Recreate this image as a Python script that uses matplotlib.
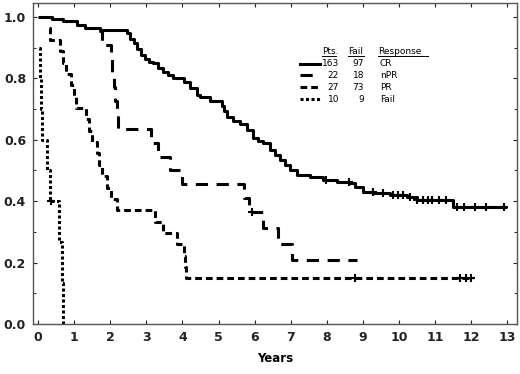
import numpy as np
import matplotlib.pyplot as plt

# survival curves (step times in years, survival after the step)
cr_t = [0, 0.38, 0.70, 1.07, 1.30, 1.72, 2.46, 2.55, 2.65, 2.73, 2.85, 2.96, 3.08, 3.19, 3.33,
        3.47, 3.60, 3.75, 4.03, 4.21, 4.40, 4.49, 4.76, 5.09, 5.15, 5.23, 5.40, 5.60, 5.78,
        5.96, 6.10, 6.24, 6.43, 6.55, 6.70, 6.85, 6.98, 7.17, 7.53, 7.90, 8.27, 8.64, 8.78,
        9.01, 9.29, 9.75, 10.21, 10.49, 11.50]
cr_s = [1.0, 0.993, 0.987, 0.974, 0.963, 0.958, 0.947, 0.930, 0.914, 0.895, 0.876, 0.862,
        0.855, 0.849, 0.835, 0.822, 0.811, 0.80, 0.79, 0.768, 0.746, 0.74, 0.725, 0.709, 0.695,
        0.676, 0.662, 0.65, 0.632, 0.605, 0.595, 0.588, 0.567, 0.550, 0.534, 0.518, 0.502,
        0.485, 0.48, 0.469, 0.464, 0.458, 0.447, 0.431, 0.426, 0.42, 0.415, 0.404, 0.382]
cr_end = 13.0
cr_cens = [7.97, 8.60, 9.28, 9.56, 9.83, 9.97, 10.1, 10.3, 10.5, 10.65, 10.8, 10.9, 11.1,
           11.3, 11.6, 11.8, 12.1, 12.4, 12.9]

npr_t = [1.70, 1.78, 2.02, 2.06, 2.10, 2.14, 2.18, 2.22, 3.12, 3.33, 3.66, 4.0, 5.70, 5.85,
         6.23, 6.65, 7.03]
npr_s = [0.955, 0.909, 0.864, 0.818, 0.773, 0.727, 0.682, 0.636, 0.591, 0.545, 0.50,
         0.455, 0.409, 0.364, 0.312, 0.260, 0.208]
npr_end = 8.84
npr_cens = [5.92]

pr_t = [0.30, 0.33, 0.62, 0.70, 0.78, 0.92, 1.00, 1.05, 1.33, 1.42, 1.50, 1.62, 1.70, 1.78,
        1.92, 2.02, 2.20, 3.25, 3.45, 3.85, 4.05, 4.07, 4.10]
pr_s = [0.963, 0.926, 0.889, 0.852, 0.815, 0.778, 0.741, 0.704, 0.667, 0.630, 0.593,
        0.556, 0.519, 0.481, 0.444, 0.407, 0.370, 0.333, 0.296, 0.259, 0.222, 0.185, 0.148]
pr_end = 12.05
pr_cens = [8.78, 11.7, 11.85, 12.0]

fail_t = [0.03, 0.05, 0.08, 0.10, 0.24, 0.33, 0.59, 0.66, 0.70]
fail_s = [0.9, 0.8, 0.7, 0.6, 0.5, 0.4, 0.267, 0.133, 0.0]
fail_cens = [0.35]

legend_pts = ["163", "22", "27", "10"]
legend_fail = ["97", "18", "73", "9"]
legend_resp = ["CR", "nPR", "PR", "Fail"]

styles = [dict(ls='-'), dict(ls=(0, (4, 2.8))), dict(ls=(0, (2.2, 1.3))), dict(ls=(0, (1.0, 0.8)))]


def surv_at(t, s, x):
    i = np.searchsorted(t, x, side='right') - 1
    return s[i]


fig = plt.figure(figsize=(5.2, 3.74), dpi=100)
ax = fig.add_axes([0.0635, 0.134, 0.931, 0.858])

curves = [(cr_t, cr_s, cr_end, cr_cens),
          (npr_t, npr_s, npr_end, npr_cens),
          (pr_t, pr_s, pr_end, pr_cens),
          (fail_t, fail_s, fail_t[-1], fail_cens)]

for (t, s, end, cens), st in zip(curves, styles):
    tt = list(t) + [end]
    ss = list(s) + [s[-1]]
    ax.step(tt, ss, where='post', color='black', lw=2.2, solid_capstyle='butt',
            dash_capstyle='butt', **st)
    cy = [surv_at(t, s, c) for c in cens]
    ax.plot(cens, cy, ls='none', marker='+', ms=5.5, mew=1.5, color='black')

ax.set_xlim(-0.14, 13.27)
ax.set_ylim(0, 1.046)
ax.set_xticks(range(0, 14))
ax.set_yticks(np.arange(0, 1.01, 0.2))
ax.set_yticklabels(["%.1f" % v for v in np.arange(0, 1.01, 0.2)])
ax.set_yticks(np.arange(0, 1.01, 0.1), minor=True)
ax.tick_params(direction='in', length=3, width=0.8, top=True, right=True,
               labelsize=9, colors='#222222', pad=5)
ax.tick_params(which='minor', direction='in', length=2, right=True, left=True)
for lab in ax.get_xticklabels() + ax.get_yticklabels():
    lab.set_fontweight('bold')
for sp in ax.spines.values():
    sp.set_color('#555555')
    sp.set_linewidth(1.0)
ax.set_xlabel("Years", fontsize=8.5, fontweight='bold', labelpad=6)

# legend table
def fx(px):
    return px / 520.0


def fy(py):
    return 1 - py / 374.0


hdr = dict(fontsize=6.5, transform=fig.transFigure, va='center')
fig.text(fx(322), fy(51), "Pts.", **hdr)
fig.text(fx(348), fy(51), "Fail", **hdr)
fig.text(fx(378), fy(51), "Response", **hdr)
for x0, x1 in [(322, 336), (348, 364), (378, 428)]:
    fig.add_artist(plt.Line2D([fx(x0), fx(x1)], [fy(56), fy(56)], color='black', lw=0.7,
                              transform=fig.transFigure))
rows_y = [64, 75, 87, 99]
for i, st in enumerate(styles):
    y = fy(rows_y[i])
    fig.add_artist(plt.Line2D([fx(300), fx(320)], [y, y], color='black', lw=2.2,
                              transform=fig.transFigure, dash_capstyle='butt', **st))
    fig.text(fx(339), y, legend_pts[i], ha='right', **hdr)
    fig.text(fx(364), y, legend_fail[i], ha='right', **hdr)
    fig.text(fx(380), y, legend_resp[i], ha='left', **hdr)

fig.savefig("out.png", dpi=100)
